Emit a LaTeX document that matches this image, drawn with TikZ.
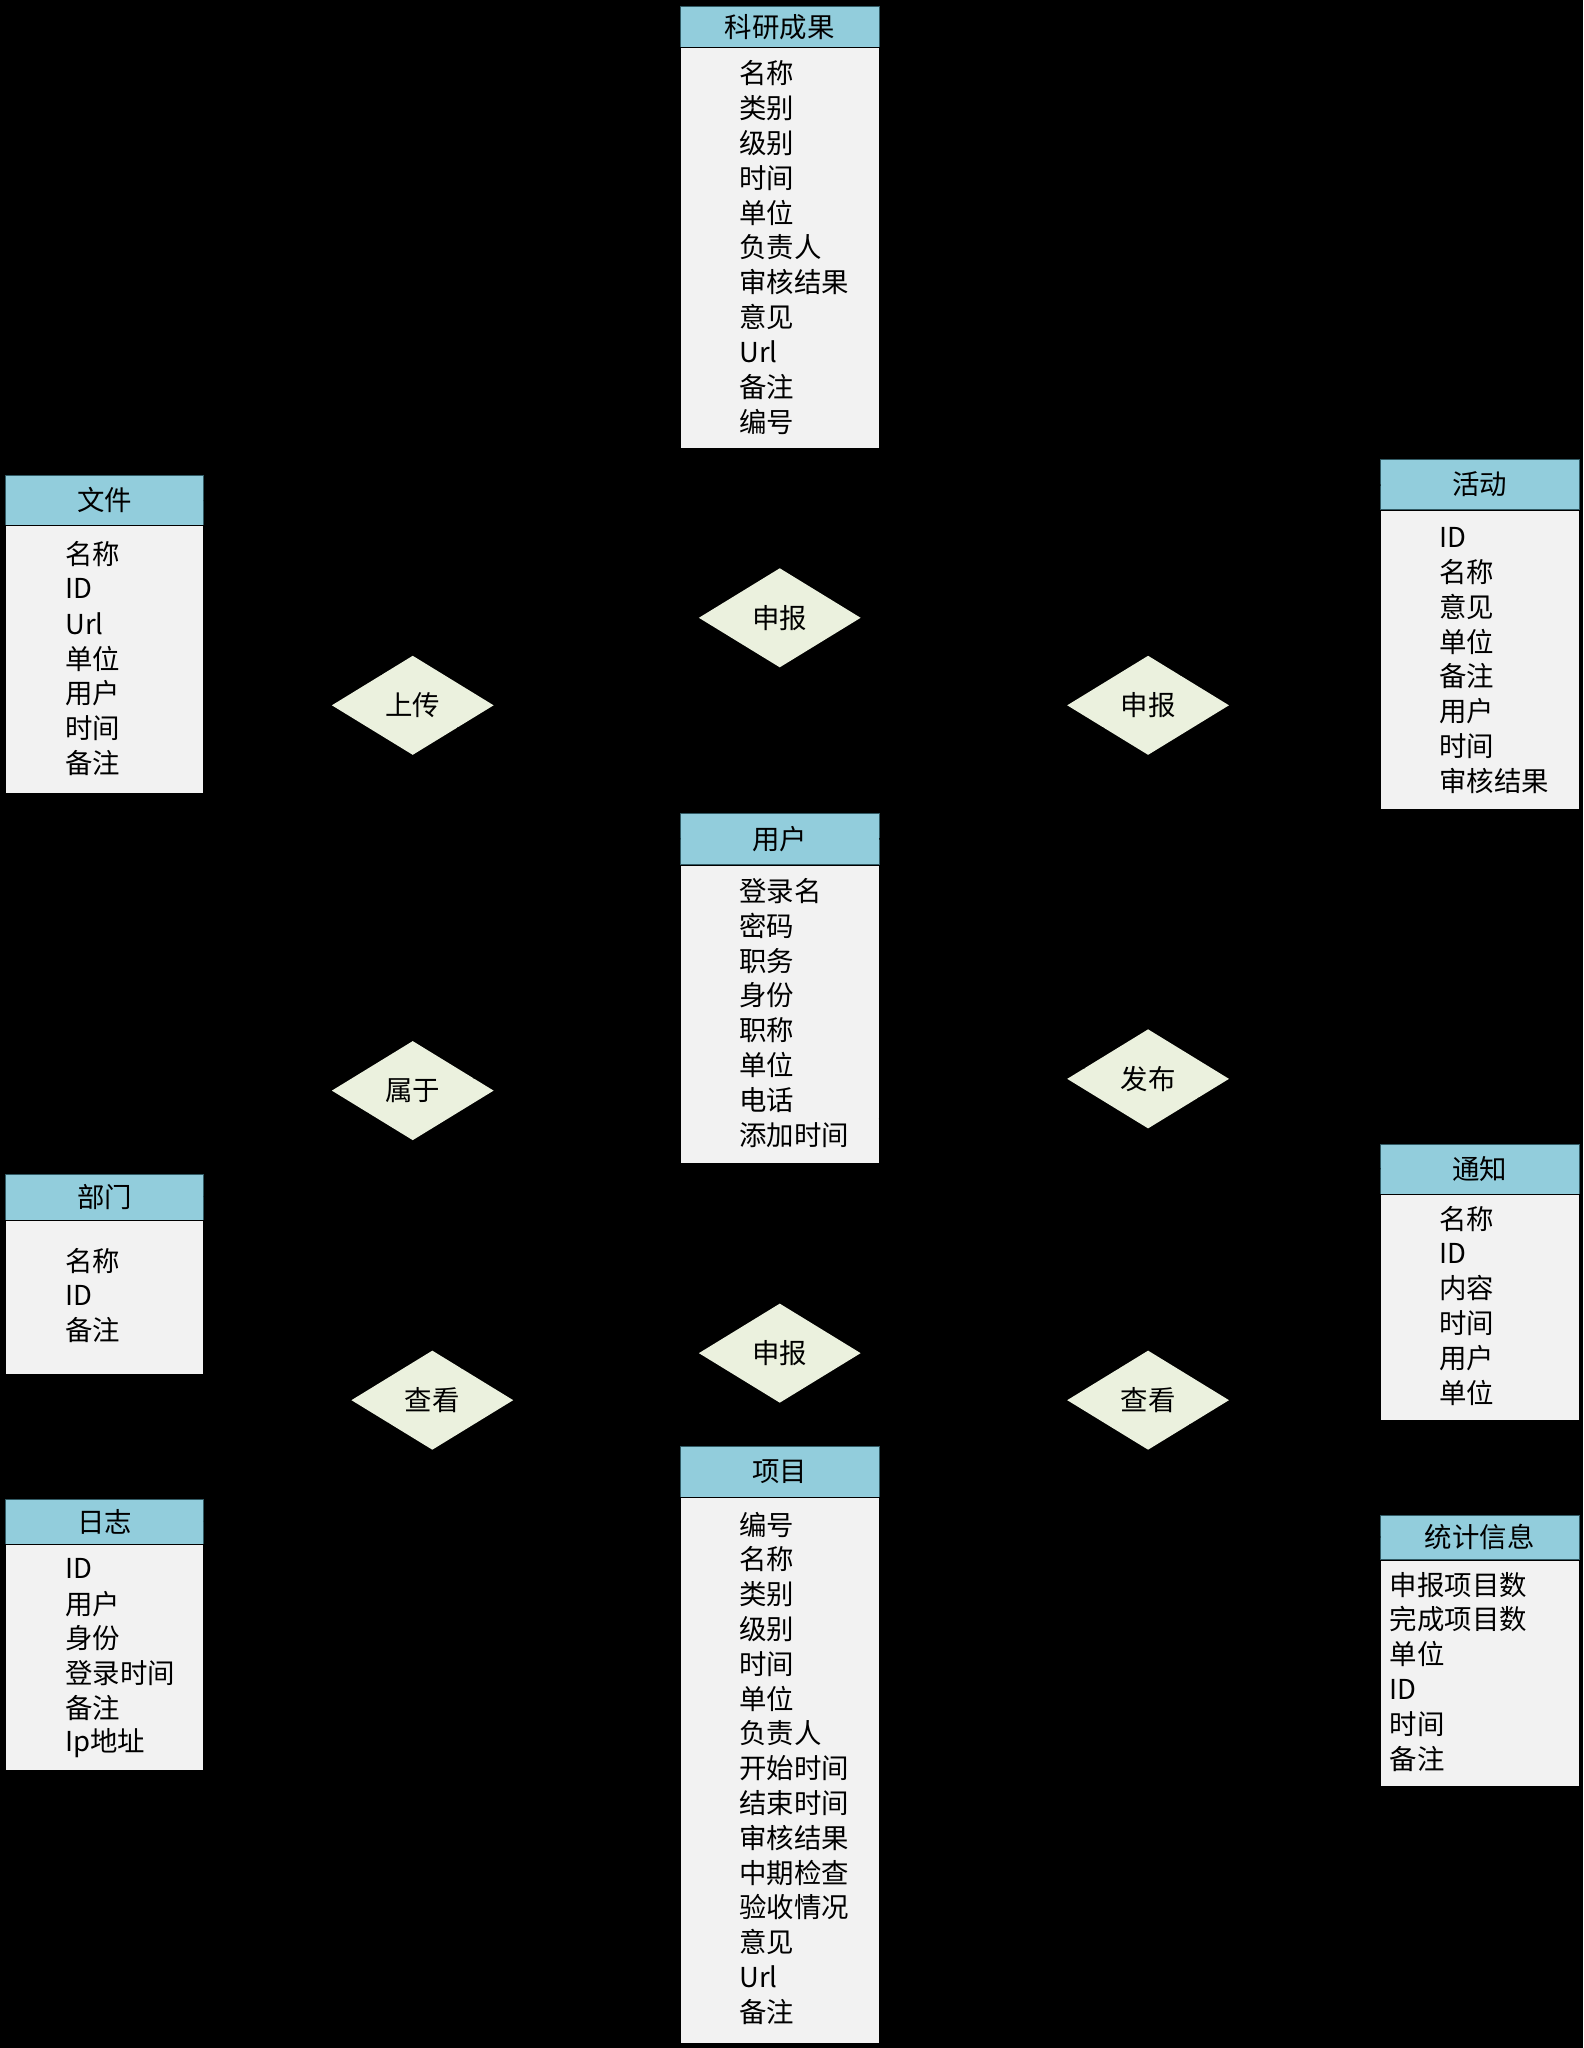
\documentclass[tikz,border=0pt]{standalone}
\usepackage{fontspec}
\newfontfamily\cjk{Noto Sans CJK SC}
\usetikzlibrary{shapes.geometric}

\definecolor{headblue}{RGB}{146,205,220}
\definecolor{headline}{RGB}{49,90,100}
\definecolor{bodygray}{RGB}{242,242,242}
\definecolor{relgreen}{RGB}{235,241,222}

\tikzset{
  headbox/.style={draw=headline, fill=headblue, minimum width=152pt, inner sep=0pt,
    font=\cjk\fontsize{21}{25}\selectfont},
  bodybox/.style={draw=black, fill=bodygray, minimum width=152pt, inner sep=0pt, anchor=north},
  attr/.style={anchor=west, inner sep=0pt, font=\cjk\fontsize{21}{25}\selectfont},
  relation/.style={diamond, fill=relgreen, minimum width=124pt, minimum height=76pt,
    inner sep=0pt, font=\cjk\fontsize{21}{25}\selectfont},
  link/.style={draw=black, line width=1pt}
}

% attribute list of an entity: name, indent, first line, list
\newcommand\attrs[4]{%
  \foreach \t [count=\i from 0] in {#4}
    \node[attr] (#1-\i) at ([xshift=#2pt, yshift={-#3pt-\i*26.65pt}]#1.north west) {\t};
}

\begin{document}
\begin{tikzpicture}[x=1pt, y=-1pt]
    % Background and page size
    \fill[black] (0,0) rectangle (1212,1568);
    \useasboundingbox (0,0) rectangle (1212,1568);

    % Entities
    \node[headbox, minimum height=31pt] (kyH) at (597,20.5) {科研成果};
    \node[bodybox, minimum height=307pt] (ky) at (kyH.south) {};
    \attrs{ky}{45}{20}{名称,类别,级别,时间,单位,负责人,审核结果,意见,Url,备注,编号}

    \node[headbox, minimum height=38pt] (wjH) at (80,383) {文件};
    \node[bodybox, minimum height=205pt] (wj) at (wjH.south) {};
    \attrs{wj}{46}{22}{名称,ID,Url,单位,用户,时间,备注}

    \node[headbox, minimum height=38pt] (hdH) at (1133,371) {活动};
    \node[bodybox, minimum height=229pt] (hd) at (hdH.south) {};
    \attrs{hd}{45}{21}{ID,名称,意见,单位,备注,用户,时间,审核结果}

    \node[headbox, minimum height=39pt] (yhH) at (597,642.5) {用户};
    \node[bodybox, minimum height=228pt] (yh) at (yhH.south) {};
    \attrs{yh}{45}{20}{登录名,密码,职务,身份,职称,单位,电话,添加时间}

    \node[headbox, minimum height=35pt] (bmH) at (80,916.5) {部门};
    \node[bodybox, minimum height=118pt] (bm) at (bmH.south) {};
    \attrs{bm}{46}{31}{名称,ID,备注}

    \node[headbox, minimum height=38pt] (tzH) at (1133,895) {通知};
    \node[bodybox, minimum height=173pt] (tz) at (tzH.south) {};
    \attrs{tz}{45}{19}{名称,ID,内容,时间,用户,单位}

    \node[headbox, minimum height=34pt] (rzH) at (80,1165) {日志};
    \node[bodybox, minimum height=173pt] (rz) at (rzH.south) {};
    \attrs{rz}{46}{19}{ID,用户,身份,登录时间,备注,Ip地址}

    \node[headbox, minimum height=39pt] (xmH) at (597,1126.5) {项目};
    \node[bodybox, minimum height=418pt] (xm) at (xmH.south) {};
    \attrs{xm}{45}{21}{编号,名称,类别,级别,时间,单位,负责人,开始时间,结束时间,审核结果,中期检查,验收情况,意见,Url,备注}

    \node[headbox, minimum height=34pt] (tjH) at (1133,1177) {统计信息};
    \node[bodybox, minimum height=173pt] (tj) at (tjH.south) {};
    \attrs{tj}{7}{19}{申报项目数,完成项目数,单位,ID,时间,备注}

    % Relations
    \node[relation] (sc) at (316,540) {上传};
    \node[relation] (sbA) at (597,473) {申报};
    \node[relation] (sbB) at (879,540) {申报};
    \node[relation] (sy) at (316,835) {属于};
    \node[relation] (fb) at (879,826) {发布};
    \node[relation] (sbC) at (597,1036) {申报};
    \node[relation] (ckA) at (331,1072) {查看};
    \node[relation] (ckB) at (879,1072) {查看};

    % Connectors
    \draw[link] (ky.south) -- (sbA.north);
    \draw[link] (sbA.south) -- (yhH.north);
    \draw[link] (wjH.east) -- (sc);
    \draw[link] (sc) -- (yhH.west);
    \draw[link] (hdH.west) -- (sbB);
    \draw[link] (sbB) -- (yhH.east);
    \draw[link] (yh) -- (sy);
    \draw[link] (sy) -- (bmH.east);
    \draw[link] (yh) -- (fb);
    \draw[link] (fb) -- (tzH.west);
    \draw[link] (yh.south) -- (sbC.north);
    \draw[link] (sbC.south) -- (xmH.north);
    \draw[link] (yh) -- (ckA);
    \draw[link] (ckA) -- (rzH.east);
    \draw[link] (yh) -- (ckB);
    \draw[link] (ckB) -- (tjH.west);
\end{tikzpicture}
\end{document}
